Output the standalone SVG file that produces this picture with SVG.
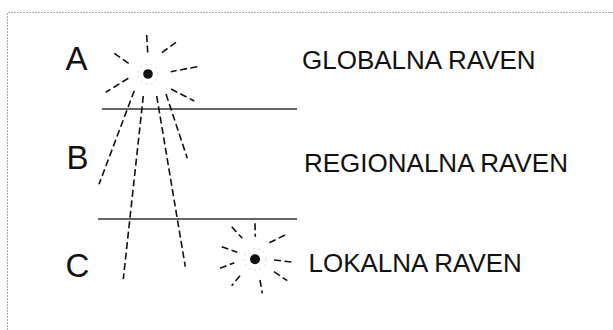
<svg xmlns="http://www.w3.org/2000/svg" width="613" height="330" viewBox="0 0 613 330">
<style>
.t{font-family:"Liberation Sans",Arial,sans-serif;fill:#111}
.big{font-size:33px}
.lab{font-size:26px}
.ray{stroke:#111;stroke-width:1.6;stroke-dasharray:7 3.5;fill:none;stroke-linecap:butt}
.lvl{stroke:#333;stroke-width:1.5;fill:none}
.halo{stroke:#bbb;stroke-width:0.8;stroke-dasharray:1.5 4;fill:none}
</style>
<rect width="613" height="330" fill="#fff"/>
<path d="M7.5,330 V12.5 H613" fill="none" stroke="#aaa" stroke-width="1" stroke-dasharray="2 1"/>
<g id="levels">
<line class="lvl" x1="102" y1="109" x2="297" y2="109"/>
<line class="lvl" x1="98" y1="219" x2="297" y2="219"/>
</g>
<g id="sunA">
<circle cx="148" cy="74" r="4.8" fill="#111"/>
<circle class="halo" cx="148" cy="74" r="10"/>
<line class="ray" x1="146.7" y1="35" x2="147.7" y2="53"/>
<line class="ray" x1="176" y1="42.3" x2="161" y2="53.3"/>
<line class="ray" x1="197.3" y1="66.7" x2="170.7" y2="71.7"/>
<line class="ray" x1="171" y1="89" x2="194.3" y2="101"/>
<line class="ray" x1="114.3" y1="53.3" x2="130" y2="64.3"/>
<line class="ray" x1="128.3" y1="78.3" x2="105.7" y2="92.3"/>
</g>
<g id="beams">
<line class="ray" x1="134.3" y1="90.7" x2="99" y2="184.3"/>
<line class="ray" x1="143.3" y1="96" x2="123.3" y2="279"/>
<line class="ray" x1="156.7" y1="96" x2="185.3" y2="266.7"/>
<line class="ray" x1="166" y1="94" x2="187.3" y2="158.3"/>
</g>
<g id="sunC">
<circle cx="255" cy="259.3" r="5" fill="#111"/>
<circle class="halo" cx="255" cy="259.3" r="11"/>
<line class="ray" x1="255" y1="223.3" x2="255.3" y2="236.7"/>
<line class="ray" x1="231.7" y1="226.7" x2="242.3" y2="238.3"/>
<line class="ray" x1="285" y1="235" x2="268.3" y2="243.3"/>
<line class="ray" x1="221.7" y1="246.7" x2="237.3" y2="252.3"/>
<line class="ray" x1="274" y1="260" x2="291.7" y2="262"/>
<line class="ray" x1="220" y1="268.3" x2="234.3" y2="262.7"/>
<line class="ray" x1="274" y1="271.7" x2="287.3" y2="280.7"/>
<line class="ray" x1="240" y1="275.7" x2="231.7" y2="285.7"/>
<line class="ray" x1="260" y1="280" x2="262.3" y2="293.3"/>
</g>
<g id="labelA"><text class="t big" x="65.5" y="69.8">A</text></g>
<g id="labelB"><text class="t big" x="66.5" y="169.3">B</text></g>
<g id="labelC"><text class="t big" x="65.5" y="276.8">C</text></g>
<g id="global"><text class="t lab" x="302" y="69.3">GLOBALNA RAVEN</text></g>
<g id="regional"><text class="t lab" x="304" y="171.7">REGIONALNA RAVEN</text></g>
<g id="local"><text class="t lab" x="308.5" y="272.3">LOKALNA RAVEN</text></g>
</svg>
